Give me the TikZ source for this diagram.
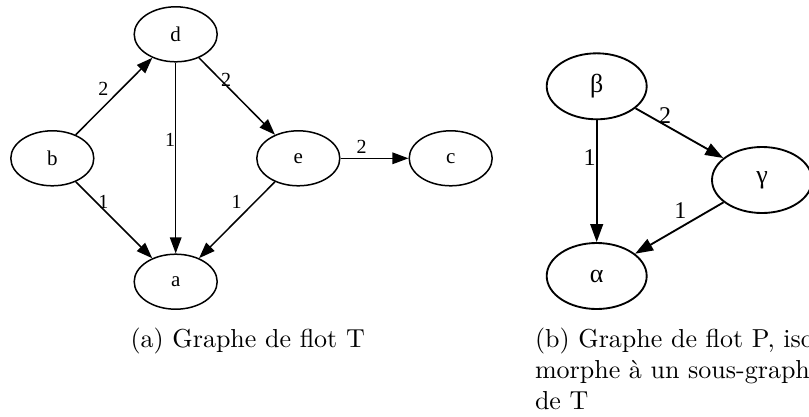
\documentclass[tikz,border=0pt]{standalone}
\usepackage{fontspec}
\newfontfamily\gvfont{Liberation Serif}
\usetikzlibrary{shapes.geometric,arrows.meta}
\begin{document}
\begin{tikzpicture}[x=1pt,y=-1pt,
  gnode/.style={draw, ellipse, line width=1.5pt, minimum width=83pt, minimum height=55pt, inner sep=0pt, font=\gvfont\fontsize{21}{21}\selectfont},
  pnode/.style={draw, ellipse, line width=1.85pt, minimum width=100pt, minimum height=66pt, inner sep=0pt, font=\gvfont\fontsize{26}{26}\selectfont},
  gedge/.style={line width=1.5pt, -{Triangle[length=16pt,width=11.5pt]}},
  pedge/.style={line width=1.85pt, -{Triangle[length=18pt,width=12.7pt]}},
  glbl/.style={inner sep=0pt, font=\gvfont\fontsize{20}{20}\selectfont},
  plbl/.style={inner sep=0pt, font=\gvfont\fontsize{24}{24}\selectfont},
  capline/.style={inner sep=0pt, anchor=base west, scale=2.6, font=\normalsize}
]
\path[use as bounding box] (0,0) rectangle (809,416);
\clip (0,0) rectangle (809,416);

% left graph T
\node[gnode] (b) at (52.3,158.3) {b};
\node[gnode] (d) at (175.7,34.3) {d};
\node[gnode] (e) at (298.3,158.3) {e};
\node[gnode] (c) at (450.7,158.3) {c};
\node[gnode] (a) at (175.7,281.7) {a};

\draw[gedge] (b) -- (d);
\draw[gedge] (d) -- (a);
\draw[gedge] (d) -- (e);
\draw[gedge] (e) -- (c);
\draw[gedge] (b) -- (a);
\draw[gedge] (e) -- (a);

\node[glbl] (l1) at (103.3,89.3) {2};
\node[glbl] (l2) at (170,139.5) {1};
\node[glbl] (l3) at (226,79.7) {2};
\node[glbl] (l4) at (361.7,146.7) {2};
\node[glbl] (l5) at (103.3,201.7) {1};
\node[glbl] (l6) at (236.7,201.7) {1};

% right graph P
\node[pnode] (beta) at (596.7,86.3) {β};
\node[pnode] (gamma) at (762,180) {γ};
\node[pnode] (alpha) at (596.7,276) {α};

\draw[pedge] (beta) -- (gamma);
\draw[pedge] (beta) -- (alpha);
\draw[pedge] (gamma) -- (alpha);

\node[plbl] (m1) at (665,115.5) {2};
\node[plbl] (m2) at (589.7,157.5) {1};
\node[plbl] (m3) at (680.3,210.3) {1};

% captions
\node[capline] (capa) at (130,347.5) {(a) Graphe de flot T};
\node[capline] (capb1) at (534.5,347.5) {(b) Graphe de flot P, iso-};
\node[capline] (capb2) at (534.5,378.7) {morphe à un sous-graphe};
\node[capline] (capb3) at (534.5,409.9) {de T};
\end{tikzpicture}
\end{document}
